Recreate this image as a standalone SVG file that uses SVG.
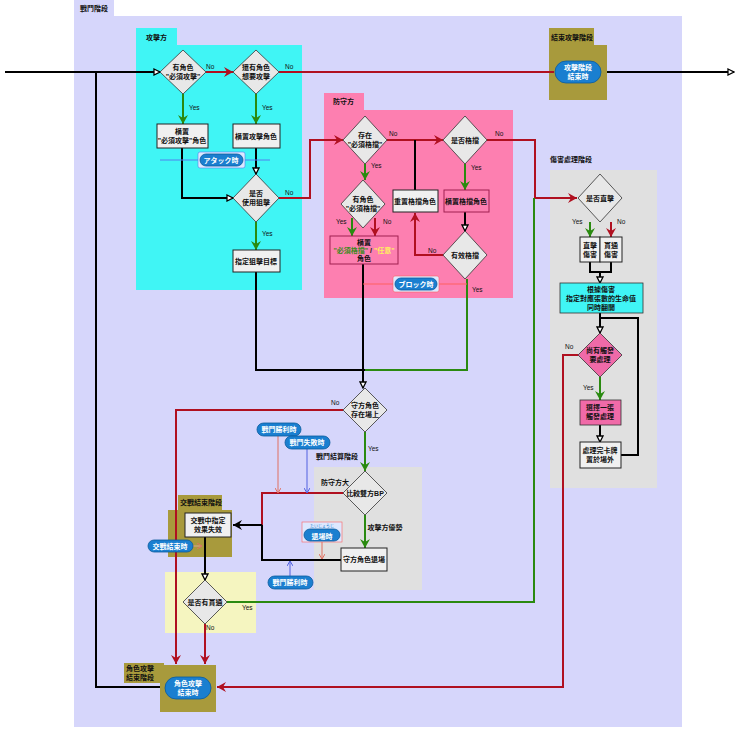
<svg xmlns="http://www.w3.org/2000/svg" width="740" height="731" viewBox="0 0 740 731">
<style>
text{font-family:"Liberation Sans","Noto Sans CJK TC",sans-serif;font-size:7px;font-weight:bold;fill:#111;text-anchor:middle}
.lbl{text-anchor:start}
.yn{font-weight:normal;font-size:6.5px;text-anchor:start}
.w{fill:#fff}
.kana{fill:#1a7fd0;font-size:4px;font-weight:normal}
.box{fill:#f0f0f0;stroke:#222;stroke-width:1}
.dia{fill:#e8e8e8;stroke:#333;stroke-width:0.8}
.pill{fill:#1a7fd0;stroke:#0b5a9c;stroke-width:0.8}
.k{fill:none;stroke:#000;stroke-width:2}
.r{fill:none;stroke:#b01020;stroke-width:2}
.g{fill:none;stroke:#2a8a10;stroke-width:2}
.thin{fill:none;stroke-width:1}
</style>
<defs>
<marker id="ak" markerWidth="8" markerHeight="8" refX="7" refY="4" orient="auto" markerUnits="userSpaceOnUse"><path d="M1,1 L7,4 L1,7 Z" fill="#fff" stroke="#000" stroke-width="1.3"/></marker>
<marker id="ar" markerWidth="10" markerHeight="10" refX="9" refY="5" orient="auto" markerUnits="userSpaceOnUse"><path d="M0,0 L9,5 L0,10 L3,5 Z" fill="#b01020"/></marker>
<marker id="ag" markerWidth="10" markerHeight="10" refX="9" refY="5" orient="auto" markerUnits="userSpaceOnUse"><path d="M0,0 L9,5 L0,10 L3,5 Z" fill="#2a8a10"/></marker>
<marker id="akb" markerWidth="10" markerHeight="10" refX="9" refY="5" orient="auto" markerUnits="userSpaceOnUse"><path d="M0,0 L9,5 L0,10 L3,5 Z" fill="#000"/></marker>
<marker id="as" markerWidth="6" markerHeight="6" refX="5" refY="3" orient="auto" markerUnits="userSpaceOnUse"><path d="M0,0 L5,3 L0,6" fill="none" stroke="#e07060" stroke-width="1"/></marker>
<marker id="ab" markerWidth="6" markerHeight="6" refX="5" refY="3" orient="auto" markerUnits="userSpaceOnUse"><path d="M0,0 L5,3 L0,6" fill="none" stroke="#5060e0" stroke-width="1"/></marker>
</defs>
<rect width="740" height="731" fill="#fff"/>

<g id="frames">
<rect x="74" y="0" width="40" height="16" fill="#d6d6fb"/>
<rect x="74" y="16" width="608" height="711" fill="#d6d6fb"/>
<text x="80" y="11" class="lbl">戰鬥階段</text>
<rect x="136" y="28" width="41" height="18" fill="#40f5f5"/>
<rect x="136" y="45" width="166" height="245" fill="#40f5f5"/>
<text x="146" y="40" class="lbl">攻擊方</text>
<rect x="324" y="93" width="40" height="18" fill="#fd7fb0"/>
<rect x="324" y="110" width="189" height="188" fill="#fd7fb0"/>
<text x="333" y="104" class="lbl">防守方</text>
<rect x="550" y="170" width="107" height="318" fill="#e0e0e0"/>
<text x="550" y="162" class="lbl">傷害處理階段</text>
<rect x="314" y="467" width="108" height="123" fill="#e0e0e0"/>
<text x="316" y="459" class="lbl">戰鬥結算階段</text>
<rect x="165" y="572" width="91" height="61" fill="#f5f5c0"/>
<rect x="178" y="495" width="44" height="15" fill="#a89a3c"/>
<rect x="168" y="510" width="64" height="47" fill="#a89a3c"/>
<text x="180" y="505" class="lbl">交戰結束階段</text>
<rect x="549" y="28" width="45" height="18" fill="#a89a3c"/>
<rect x="549" y="45" width="58" height="55" fill="#a89a3c"/>
<text x="551" y="40" class="lbl">結束攻擊階段</text>
<rect x="124" y="663" width="40" height="20" fill="#a89a3c"/>
<rect x="160" y="665" width="56" height="47" fill="#a89a3c"/>
<text x="126" y="671" class="lbl">角色攻擊</text>
<text x="126" y="680" class="lbl">結束階段</text>
</g>

<g id="connectors">
<path class="k" d="M5,72 H160" marker-end="url(#ak)"/>
<path class="k" d="M160,687 H96 V72"/>
<path class="r" d="M206,72 H233" marker-end="url(#ar)"/>
<path class="r" d="M279,72 H554"/>
<path class="k" d="M607,72 H734" marker-end="url(#ak)" stroke-width="1.5"/>
<path class="g" d="M183,94 V124" marker-end="url(#ag)"/>
<path class="g" d="M256,94 V124" marker-end="url(#ag)"/>
<path class="k" d="M182,148 V198 H233" marker-end="url(#ak)"/>
<path class="k" d="M256,148 V174" marker-end="url(#ak)"/>
<path class="r" d="M279,198 H310 V140 H343" marker-end="url(#ar)"/>
<path class="g" d="M256,222 V250" marker-end="url(#ag)"/>
<path class="k" d="M256,272 V370 H365"/>
<path class="r" d="M387,140 H443" marker-end="url(#ar)"/>
<path class="k" d="M415,140 V190"/>
<path class="r" d="M487,140 H535 V198 H577" marker-end="url(#ar)"/>
<path class="g" d="M465,164 V190" marker-end="url(#ag)"/>
<path class="k" d="M465,212 V231" marker-end="url(#ak)"/>
<path class="r" d="M443,255 H415 V213" marker-end="url(#ar)"/>
<path class="g" d="M365,164 V180" marker-end="url(#ag)"/>
<path class="g" d="M352,218 V236" marker-end="url(#ag)"/>
<path class="r" d="M375,218 V236" marker-end="url(#ar)"/>
<path class="g" d="M467,279 V370 H365"/>
<path class="k" d="M363,264 V388" marker-end="url(#ak)"/>
<path class="r" d="M343,410 H176 V664" marker-end="url(#ar)"/>
<path class="g" d="M365,432 V471" marker-end="url(#ag)"/>
<path class="r" d="M343,493 H262 V525"/>
<path class="k" d="M262,525 V560 H341"/>
<path class="k" d="M262,525 H233" marker-end="url(#akb)"/>
<path class="g" d="M365,515 V548" marker-end="url(#ag)"/>
<path class="k" d="M205,537 V580" marker-end="url(#ak)"/>
<path class="g" d="M227,602 H534 V198"/>
<path class="r" d="M205,624 V664" marker-end="url(#ar)"/>
<path class="r" d="M578,355 H563 V687 H217" marker-end="url(#ar)"/>
<path class="g" d="M590,222 V237" marker-end="url(#ag)"/>
<path class="r" d="M611,222 V237" marker-end="url(#ar)"/>
<path class="k" d="M590,262 V272 H611 V262 M600,272 V283" marker-end="url(#ak)"/>
<path class="k" d="M600,313 V333" marker-end="url(#ak)"/>
<path class="k" d="M621,455 H638 V318 H600"/>
<path class="g" d="M600,377 V400" marker-end="url(#ag)"/>
<path class="k" d="M600,425 V442" marker-end="url(#ak)"/>
<path class="thin" stroke="#e07060" d="M278,436 V493" marker-end="url(#as)"/>
<path class="thin" stroke="#5060e0" d="M307,449 V493" marker-end="url(#ab)"/>
<path class="thin" stroke="#e07060" d="M322,542 V559" marker-end="url(#as)"/>
<path class="thin" stroke="#5060e0" d="M290,576 V561" marker-end="url(#ab)"/>
<path class="thin" stroke="#e0a090" d="M193,546 H202" marker-end="url(#as)"/>
<path class="thin" stroke="#5080f0" d="M198,160 H160 M245,160 H270" />
<path class="thin" stroke="#ff6060" d="M393,284 H363 M439,284 H467"/>
</g>

<g id="attacker">
<g id="d1"><path class="dia" d="M183,50 L206,72 L183,94 L160,72 Z"/><text x="183" y="70">有角色</text><text x="183" y="79">"必須攻擊"</text></g>
<text x="206" y="69" class="yn">No</text>
<g id="d2"><path class="dia" d="M256,50 L279,72 L256,94 L233,72 Z"/><text x="256" y="70">還有角色</text><text x="256" y="79">想要攻擊</text></g>
<text x="285" y="69" class="yn">No</text>
<text x="189" y="110" class="yn">Yes</text><text x="262" y="110" class="yn">Yes</text>
<g id="b1"><rect class="box" x="157" y="124" width="51" height="24"/><text x="182" y="134">橫置</text><text x="182" y="143">"必須攻擊"角色</text></g>
<g id="b2"><rect class="box" x="233" y="124" width="47" height="24"/><text x="256" y="139">橫置攻擊角色</text></g>
<g id="atk"><rect x="198" y="152" width="47" height="16" rx="2" fill="#dde8ff" stroke="#5080f0" stroke-width="0.6"/><rect x="200" y="154" width="43" height="12" rx="6" class="pill"/><text x="221" y="163" class="w" font-size="8">アタック時</text></g>
<g id="d3"><path class="dia" d="M256,174 L279,198 L256,222 L233,198 Z"/><text x="256" y="196">是否</text><text x="256" y="205">使用狙擊</text></g>
<text x="285" y="195" class="yn">No</text>
<text x="262" y="236" class="yn">Yes</text>
<g id="b3"><rect class="box" x="233" y="250" width="47" height="22"/><text x="256" y="264">指定狙擊目標</text></g>
</g>

<g id="defender">
<g id="d4"><path class="dia" d="M365,116 L387,140 L365,164 L343,140 Z"/><text x="365" y="138">存在</text><text x="365" y="147">"必須格擋"</text></g>
<text x="389" y="136" class="yn">No</text><text x="371" y="168" class="yn">Yes</text>
<g id="d5"><path class="dia" d="M465,116 L487,140 L465,164 L443,140 Z"/><text x="465" y="143">是否格擋</text></g>
<text x="495" y="136" class="yn">No</text><text x="471" y="170" class="yn">Yes</text>
<g id="d6"><path class="dia" d="M363,180 L385,204 L363,228 L341,204 Z"/><text x="363" y="202">有角色</text><text x="363" y="211">"必須格擋"</text></g>
<text x="336" y="224" class="yn">Yes</text><text x="383" y="224" class="yn">No</text>
<g id="b4"><rect x="330" y="236" width="68" height="28" fill="#fd7fb0" stroke="#a02050" stroke-width="1"/><text x="364" y="245">橫置</text><text x="364" y="253"><tspan fill="#3a8a20">"必須格擋"</tspan> / <tspan fill="#ffee60">"任意"</tspan></text><text x="364" y="261">角色</text></g>
<g id="b5"><rect class="box" x="393" y="190" width="45" height="22"/><text x="415" y="204">重置格擋角色</text></g>
<g id="b6"><rect x="444" y="190" width="45" height="22" fill="#fd7fb0" stroke="#a02050" stroke-width="1"/><text x="466" y="204">橫置格擋角色</text></g>
<g id="d7"><path class="dia" d="M465,231 L487,255 L465,279 L443,255 Z"/><text x="465" y="258">有效格擋</text></g>
<text x="428" y="253" class="yn">No</text><text x="472" y="292" class="yn">Yes</text>
<g id="blk"><rect x="393" y="276" width="46" height="16" rx="2" fill="#dde8ff" stroke="#ff6060" stroke-width="0.6"/><rect x="395" y="278" width="42" height="12" rx="6" class="pill"/><text x="416" y="287" class="w" font-size="8">ブロック時</text></g>
</g>

<g id="endatk"><rect x="555" y="61" width="46" height="22" rx="11" class="pill"/><text x="578" y="70" class="w">攻擊階段</text><text x="578" y="79" class="w">結束時</text></g>

<g id="damage">
<g id="d8"><path class="dia" d="M600,174 L622,198 L600,222 L578,198 Z"/><text x="600" y="201">是否直擊</text></g>
<text x="572" y="224" class="yn">Yes</text><text x="617" y="224" class="yn">No</text>
<g id="b7"><rect class="box" x="580" y="237" width="20" height="25"/><text x="590" y="248">直擊</text><text x="590" y="257">傷害</text></g>
<g id="b8"><rect class="box" x="600" y="237" width="22" height="25"/><text x="611" y="248">貫通</text><text x="611" y="257">傷害</text></g>
<g id="b9"><rect x="560" y="283" width="83" height="30" fill="#40f5f5" stroke="#333" stroke-width="0.8"/><text x="601" y="292">根據傷害</text><text x="601" y="301">指定對應張數的生命值</text><text x="601" y="310">同時翻開</text></g>
<g id="d9"><path d="M600,333 L622,355 L600,377 L578,355 Z" fill="#f06aa8" stroke="#333" stroke-width="0.8"/><text x="600" y="353">尚有觸發</text><text x="600" y="362">要處理</text></g>
<text x="565" y="349" class="yn">No</text><text x="583" y="390" class="yn">Yes</text>
<g id="b10"><rect x="580" y="400" width="41" height="25" fill="#f06aa8" stroke="#333" stroke-width="0.8"/><text x="600" y="410">選擇一張</text><text x="600" y="419">觸發處理</text></g>
<g id="b11"><rect class="box" x="580" y="442" width="41" height="26"/><text x="600" y="453">處理完卡牌</text><text x="600" y="462">置於場外</text></g>
</g>

<g id="settle">
<g id="d10"><path class="dia" d="M365,388 L387,410 L365,432 L343,410 Z"/><text x="365" y="408">守方角色</text><text x="365" y="417">存在場上</text></g>
<text x="331" y="405" class="yn">No</text><text x="368" y="451" class="yn">Yes</text>
<g id="d11"><path class="dia" d="M365,471 L387,493 L365,515 L343,493 Z"/><text x="365" y="496">比較雙方BP</text></g>
<text x="335" y="485">防守方大</text>
<text x="385" y="530">攻擊方優勢</text>
<g id="b12"><rect class="box" x="341" y="548" width="46" height="23"/><text x="364" y="562">守方角色退場</text></g>
<g id="win1"><rect x="257" y="423" width="44" height="13" rx="6.5" class="pill"/><text x="279" y="432" class="w">戰鬥勝利時</text></g>
<g id="lose"><rect x="285" y="436" width="45" height="13" rx="6.5" class="pill"/><text x="307" y="445" class="w">戰鬥失敗時</text></g>
<g id="exit"><rect x="302" y="522" width="40" height="20" fill="#dde8ff" stroke="#ff6060" stroke-width="0.6"/><text x="322" y="528" class="kana">たいじょうじ</text><rect x="304" y="529" width="36" height="12" rx="6" class="pill"/><text x="322" y="539" class="w" font-size="9">退場時</text></g>
<g id="win2"><rect x="268" y="576" width="45" height="13" rx="6.5" class="pill"/><text x="290" y="585" class="w">戰鬥勝利時</text></g>
<g id="b13"><rect class="box" x="185" y="513" width="46" height="24"/><text x="208" y="523">交戰中指定</text><text x="208" y="532">效果失效</text></g>
<g id="engend"><rect x="148" y="540" width="45" height="12" rx="6" class="pill"/><text x="170" y="549" class="w">交戰結束時</text></g>
<g id="d12"><path class="dia" d="M205,580 L227,602 L205,624 L183,602 Z"/><text x="205" y="605">是否有貫通</text></g>
<text x="242" y="610" class="yn">Yes</text><text x="206" y="630" class="yn">No</text>
<g id="atkend"><rect x="165" y="677" width="46" height="22" rx="11" class="pill"/><text x="188" y="686" class="w">角色攻擊</text><text x="188" y="695" class="w">結束時</text></g>
</g>
</svg>
